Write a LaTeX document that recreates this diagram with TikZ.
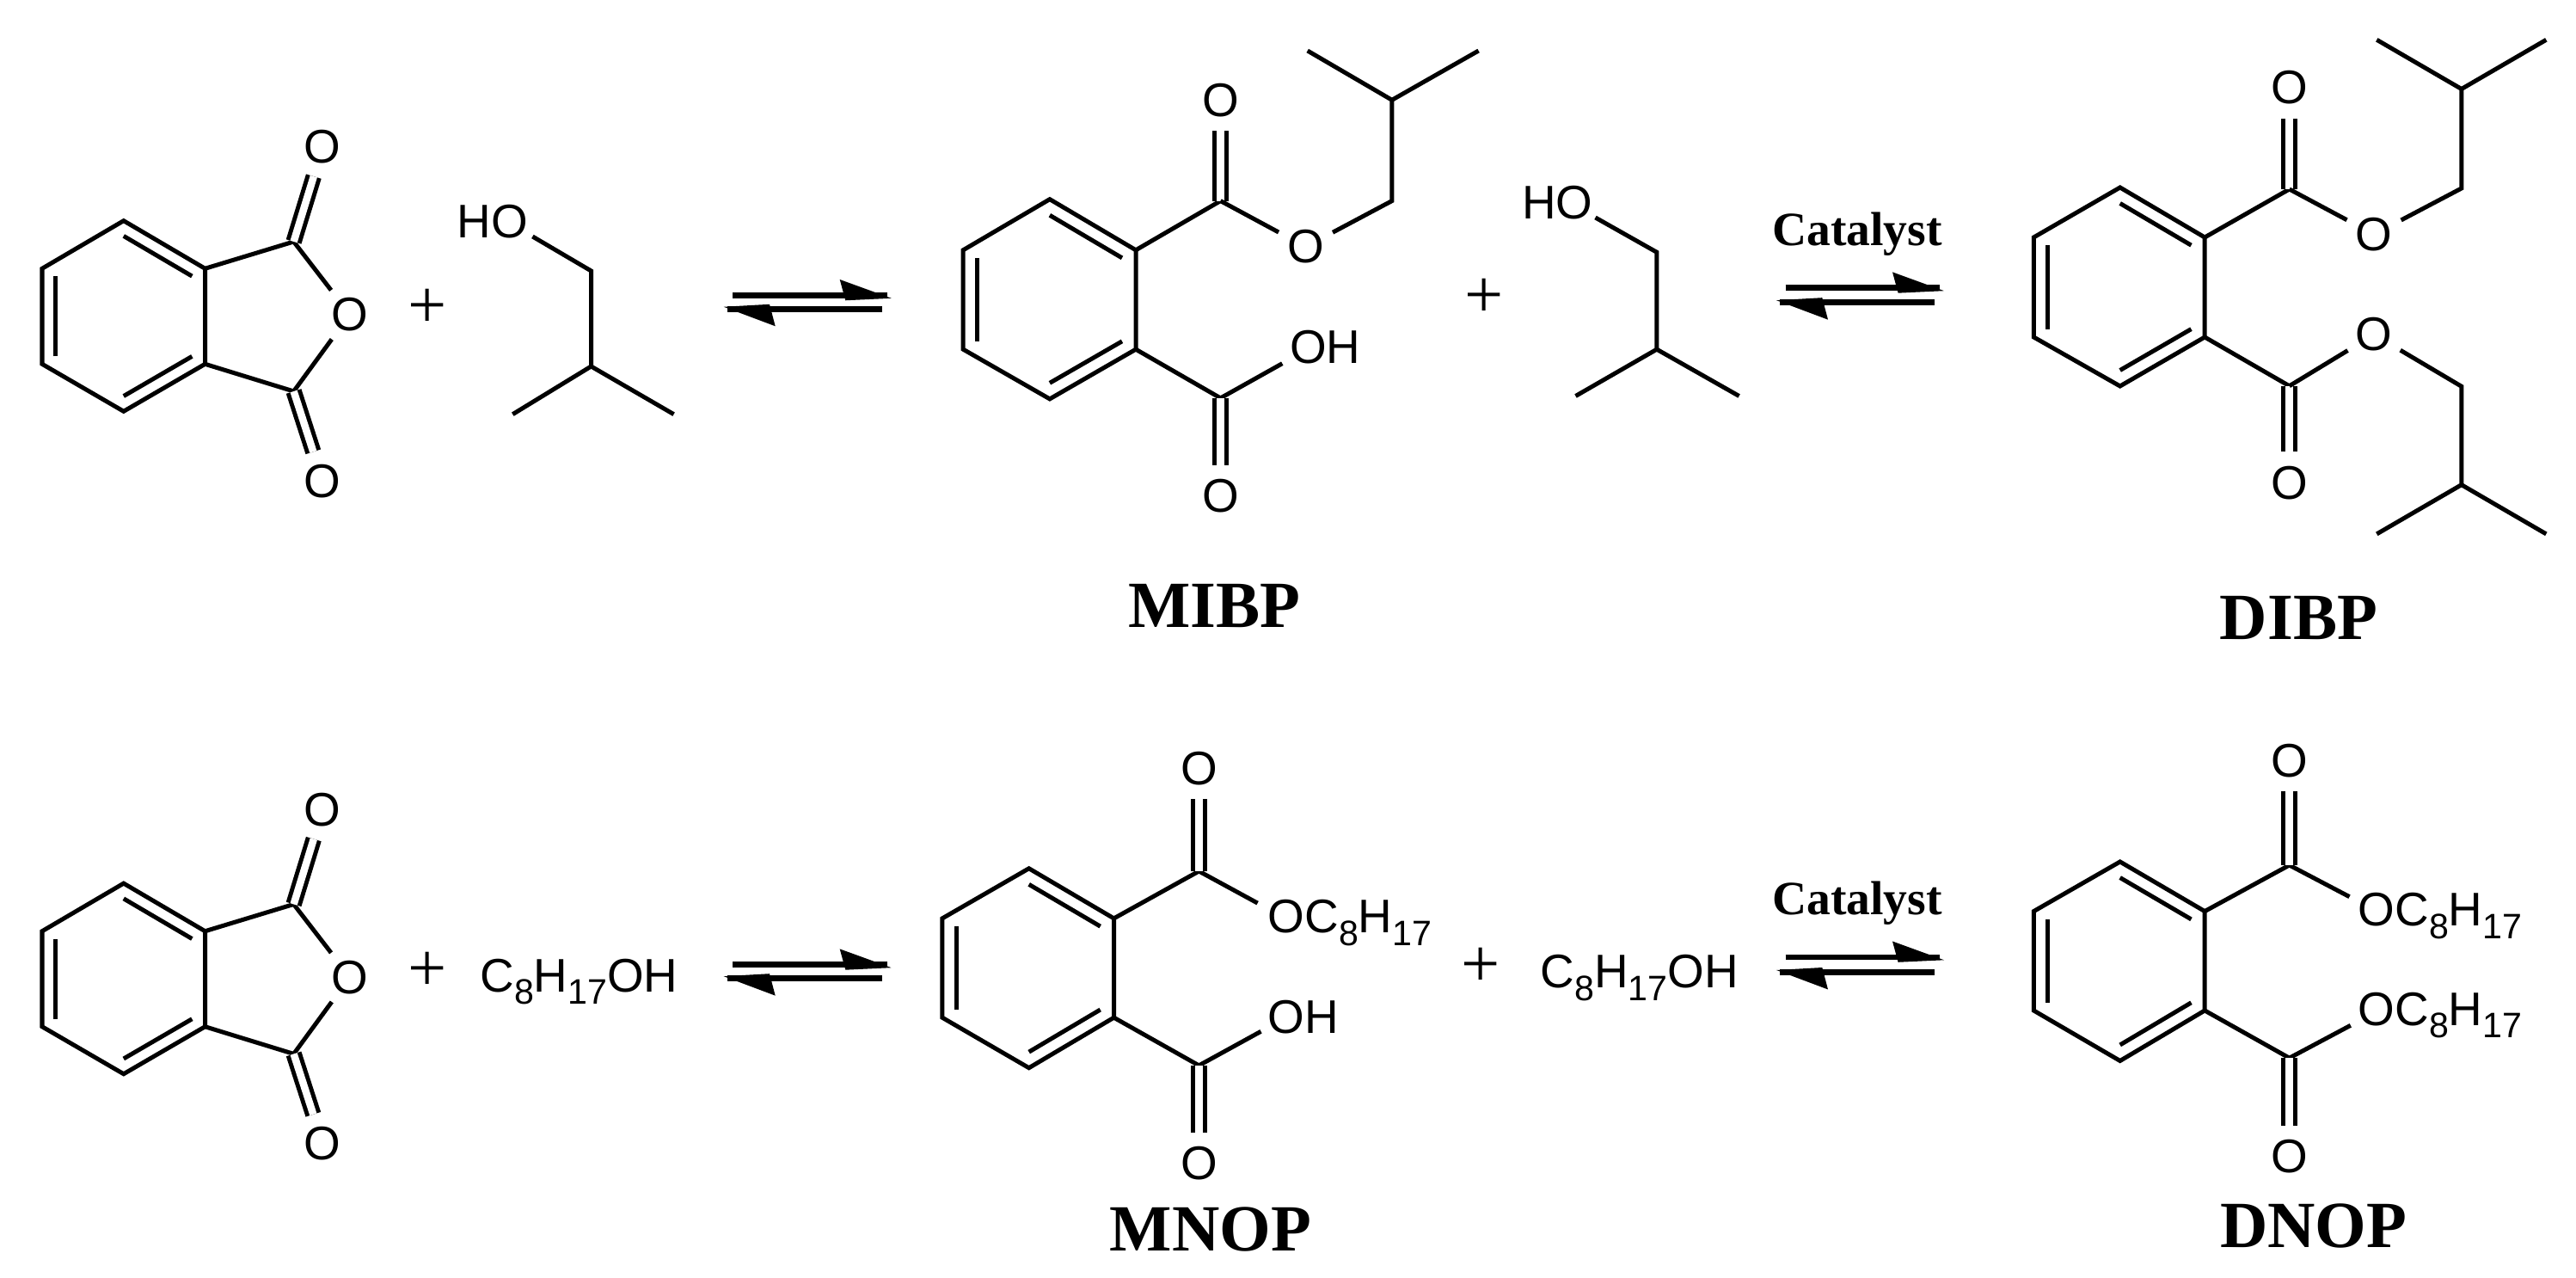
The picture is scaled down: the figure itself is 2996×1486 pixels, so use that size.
\documentclass[tikz,border=0pt]{standalone}
\usepackage{fontspec}
\setmainfont{Liberation Serif}
\newfontfamily\chemfont{Liberation Sans}
\usetikzlibrary{calc}
\newcommand{\sbd}[1]{\raisebox{-4pt}{\fontsize{11.7}{12}\selectfont #1}}
\newcommand{\cei}{C\sbd{8}H\sbd{17}}
\tikzset{
  x=0.01cm,y=-0.01cm,
  bond/.style={line width=0.05cm,line join=miter,black},
  dbl/.style={bond,double,double distance=0.085cm,line width=0.05cm},
  atom/.style={circle,inner sep=0,minimum size=0.70cm,font=\chemfont\fontsize{15.6}{18}\selectfont},
  lab/.style={inner sep=0,anchor=base west,font=\chemfont\fontsize{15.6}{18}\selectfont},
  plusign/.style={inner sep=0,font=\fontsize{22.8}{24}\selectfont},
  title/.style={inner sep=0,anchor=base,font=\bfseries\fontsize{21.8}{24}\selectfont},
  cat/.style={inner sep=0,anchor=base,font=\bfseries\fontsize{15.8}{18}\selectfont},
  eqline/.style={line width=0.065cm,black},
}
% ring: prefix, x left, x mid, x right, y1, y2, y3, y4
\newcommand{\ring}[8]{%
  \coordinate (#1a) at (#3,#5);
  \coordinate (#1b) at (#4,#6);
  \coordinate (#1c) at (#4,#7);
  \coordinate (#1d) at (#3,#8);
  \coordinate (#1e) at (#2,#7);
  \coordinate (#1f) at (#2,#6);
  \coordinate (#1m) at ($(#1a)!.5!(#1d)$);
  \draw[bond] (#1a)--(#1b)--(#1c)--(#1d)--(#1e)--(#1f)--cycle;
  \draw[bond] ($(#1a)!.16!(#1m)$)--($(#1b)!.16!(#1m)$);
  \draw[bond] ($(#1c)!.16!(#1m)$)--($(#1d)!.16!(#1m)$);
  \draw[bond] ($(#1e)!.16!(#1m)$)--($(#1f)!.16!(#1m)$);
}
% equilibrium arrows: prefix, left x, upper y, lower y
\newcommand{\eqarrows}[4]{%
  \coordinate (#1ua) at (#2+10.5,#3);
  \coordinate (#1ub) at (#2+190,#3);
  \coordinate (#1ut) at (#2+195,#3+3.5);
  \coordinate (#1uk) at (#2+135,#3-18.3);
  \coordinate (#1ui) at (#2+141.6,#3+6);
  \coordinate (#1la) at (#2+184,#4);
  \coordinate (#1lb) at (#2+4,#4);
  \coordinate (#1lt) at (#2,#4-2.5);
  \coordinate (#1lk) at (#2+60,#4+20);
  \coordinate (#1li) at (#2+53.3,#4-5.5);
  \draw[eqline] (#1ua)--(#1ub);
  \fill (#1ut)--(#1uk)--(#1ui)--cycle;
  \draw[eqline] (#1la)--(#1lb);
  \fill (#1lt)--(#1lk)--(#1li)--cycle;
}
% phthalic anhydride: prefix
\newcommand{\anhyd}[1]{%
  \ring{#1}{49}{143.8}{238.5}{256.7}{312.3}{423.3}{478.3}
  \coordinate (#1p) at (341.6,281);
  \coordinate (#1q) at (341.6,455);
  \node[atom] (#1O) at (406.9,365.7) {O};
  \node[atom] (#1U) at (375.3,171) {O};
  \node[atom] (#1L) at (375.3,559.3) {O};
  \draw[bond] (#1b)--(#1p);
  \draw[bond] (#1c)--(#1q);
  \draw[bond] (#1p)--(#1O);
  \draw[bond] (#1q)--(#1O);
  \draw[dbl] (#1p)--(#1U);
  \draw[dbl] (#1q)--(#1L);
}
\begin{document}
\begin{tikzpicture}
\useasboundingbox (0,0) rectangle (2996,1486);
% ---------- top row ----------
\anhyd{A}
\node[plusign] (plusA) at (496.7,359.3) {+};
\node[lab] (hoA) at (531,277) {HO};
\coordinate (hoAb) at (619.4,275);
\coordinate (hoA1) at (687.5,315);
\coordinate (hoA2) at (687.5,426);
\coordinate (hoA3) at (596.3,481.7);
\coordinate (hoA4) at (783.6,481.7);
\draw[bond] (hoAb)--(hoA1)--(hoA2)--(hoA3);
\draw[bond] (hoA2)--(hoA4);
\eqarrows{eA}{841.7}{343.3}{359.3}
% MIBP
\ring{B}{1120.2}{1220.9}{1321}{231.7}{290.8}{406.2}{463.9}
\coordinate (Bp) at (1419.5,233.6);
\coordinate (Bq) at (1419.5,462.9);
\node[atom] (BU) at (1419.5,116.3) {O};
\node[atom] (BL) at (1419.5,576.8) {O};
\node[atom] (BO) at (1518.5,287) {O};
\node[lab] (BOH) at (1499.6,422.7) {OH};
\coordinate (BOHb) at (1491.3,422.7);
\coordinate (B1) at (1618.9,233.6);
\coordinate (B2) at (1618.9,116.3);
\coordinate (B3) at (1520.7,59);
\coordinate (B4) at (1719.6,59);
\draw[bond] (Bb)--(Bp);
\draw[bond] (Bc)--(Bq)--(BOHb);
\draw[dbl] (Bp)--(BU);
\draw[dbl] (Bq)--(BL);
\draw[bond] (Bp)--(BO);
\draw[bond] (BO)--(B1)--(B2)--(B3);
\draw[bond] (B2)--(B4);
\node[title] (mibp) at (1412.4,729.5) {MIBP};
\node[plusign] (plusB) at (1726,346.6) {+};
\node[lab] (hoB) at (1769.6,255) {HO};
\coordinate (hoBb) at (1855.5,253);
\coordinate (hoB1) at (1926.9,293.3);
\coordinate (hoB2) at (1926.9,406.2);
\coordinate (hoB3) at (1832.5,460.5);
\coordinate (hoB4) at (2022.6,460.5);
\draw[bond] (hoBb)--(hoB1)--(hoB2)--(hoB3);
\draw[bond] (hoB2)--(hoB4);
\node[cat] (catB) at (2160,285.5) {Catalyst};
\eqarrows{eB}{2066}{334.7}{351.7}
% DIBP
\ring{C}{2365.3}{2465.7}{2564.2}{218}{276}{392}{449}
\coordinate (Cp) at (2662.6,220);
\coordinate (Cq) at (2662.6,448.8);
\node[atom] (CU) at (2662.6,102) {O};
\node[atom] (CL) at (2662.6,561.2) {O};
\node[atom] (CO) at (2761,272.6) {O};
\node[atom] (CP) at (2761,389) {O};
\coordinate (C1) at (2862.8,219);
\coordinate (C2) at (2862.8,103.5);
\coordinate (C3) at (2764.3,46.3);
\coordinate (C4) at (2961.3,46.3);
\coordinate (C5) at (2862.8,449.3);
\coordinate (C6) at (2862.8,563.7);
\coordinate (C7) at (2764.3,620.9);
\coordinate (C8) at (2961.3,620.9);
\draw[bond] (Cb)--(Cp);
\draw[bond] (Cc)--(Cq);
\draw[dbl] (Cp)--(CU);
\draw[dbl] (Cq)--(CL);
\draw[bond] (Cp)--(CO);
\draw[bond] (Cq)--(CP);
\draw[bond] (CO)--(C1)--(C2)--(C3);
\draw[bond] (C2)--(C4);
\draw[bond] (CP)--(C5)--(C6)--(C7);
\draw[bond] (C6)--(C8);
\node[title] (dibp) at (2673.4,743.8) {DIBP};
% ---------- bottom row ----------
\begin{scope}[yshift=-7.70cm]
\anhyd{D}
\node[plusign] (plusD) at (496.7,359.3) {+};
\end{scope}
\node[lab] (alcD) at (557.7,1153.3) {\cei OH};
\eqarrows{eD}{841.7}{1121.7}{1137.7}
% MNOP
\ring{E}{1095.9}{1196.7}{1295.5}{1009.8}{1067.9}{1183.2}{1241.7}
\coordinate (Ep) at (1394.4,1013);
\coordinate (Eq) at (1394.4,1238.9);
\node[atom] (EU) at (1394.4,893.6) {O};
\node[atom] (EL) at (1394.4,1353) {O};
\node[lab] (Eest) at (1474,1085) {O\cei};
\node[lab] (EOH) at (1474,1201.8) {OH};
\coordinate (Eestb) at (1462.6,1050.1);
\coordinate (EOHb) at (1466.5,1199.3);
\draw[bond] (Eb)--(Ep)--(Eestb);
\draw[bond] (Ec)--(Eq)--(EOHb);
\draw[dbl] (Ep)--(EU);
\draw[dbl] (Eq)--(EL);
\node[title] (mnop) at (1407.8,1454.7) {MNOP};
\node[plusign] (plusE) at (1721.6,1125) {+};
\node[lab] (alcE) at (1791,1149) {\cei OH};
\node[cat] (catE) at (2160,1063.3) {Catalyst};
\eqarrows{eE}{2066}{1112.8}{1130.5}
% DNOP
\ring{F}{2365.3}{2465.7}{2564.2}{1002}{1059.6}{1175}{1233.5}
\coordinate (Fp) at (2662.6,1006);
\coordinate (Fq) at (2662.6,1230.2);
\node[atom] (FU) at (2662.6,884.5) {O};
\node[atom] (FL) at (2662.6,1344.7) {O};
\node[lab] (Fest) at (2742,1077) {O\cei};
\node[lab] (Fesu) at (2742,1192.3) {O\cei};
\coordinate (Festb) at (2732.5,1042.7);
\coordinate (Fesub) at (2733.8,1192.3);
\draw[bond] (Fb)--(Fp)--(Festb);
\draw[bond] (Fc)--(Fq)--(Fesub);
\draw[dbl] (Fp)--(FU);
\draw[dbl] (Fq)--(FL);
\node[title] (dnop) at (2690.6,1450.6) {DNOP};
\end{tikzpicture}
\end{document}
